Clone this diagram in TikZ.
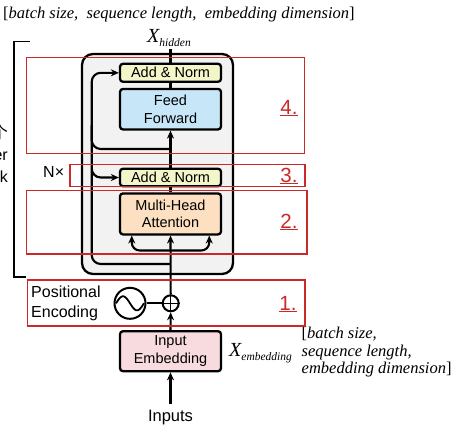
\documentclass[tikz,border=0pt]{standalone}
\usepackage{fontspec}
\setmainfont{Liberation Sans}
\newfontfamily\serifit{Liberation Serif}[Ligatures=TeX]
\newfontfamily\cjkfont{Noto Sans CJK SC}
\usetikzlibrary{arrows.meta,calc}
\definecolor{annorm}{RGB}{243,246,201}
\definecolor{ffblue}{RGB}{199,231,249}
\definecolor{mhaorange}{RGB}{252,224,193}
\definecolor{iepink}{RGB}{248,219,222}
\definecolor{blockgray}{RGB}{242,242,242}
\definecolor{annred}{RGB}{205,40,40}
\tikzset{
  blk/.style={draw=black, line width=2.3pt, rounded corners=3pt,
    minimum width=101pt, align=center, inner sep=0pt,
    font=\fontsize{14.5}{17.5}\selectfont},
  arr/.style={line width=2.1pt, -{Stealth[length=8pt,width=7pt]}},
  ln/.style={line width=2.1pt},
  redbox/.style={draw=annred, line width=1.2pt},
  redlab/.style={text=annred, font=\fontsize{20.5}{20.5}\selectfont, inner sep=0pt},
  serlab/.style={font=\serifit\itshape\fontsize{16.5}{17.5}\selectfont, inner sep=0pt}
}
\begin{document}
\begin{tikzpicture}[x=1pt,y=-1pt]
\useasboundingbox (0,0) rectangle (470,429);

% outer encoder block
\node[draw=black, fill=blockgray, line width=2.3pt, rounded corners=11pt,
  minimum width=151pt, minimum height=220pt, inner sep=0pt] (outer) at (157.5,164) {};

% blocks
\node[blk, fill=annorm, minimum height=18pt] (antop) at (170.5,72.8) {Add \& Norm};
\node[blk, fill=ffblue, minimum height=40.5pt] (ff) at (170.5,109.2) {Feed\\Forward};
\node[blk, fill=annorm, minimum height=17.5pt] (anbot) at (170.5,177.5) {Add \& Norm};
\node[blk, fill=mhaorange, minimum height=41pt] (mha) at (170.5,213.9) {Multi-Head\\Attention};
\node[blk, fill=iepink, minimum height=40pt] (ie) at (170.5,351.2) {Input\\Embedding};

% positional encoding
\node[circle, draw=black, line width=2pt, minimum size=16pt, inner sep=0pt] (plus) at (170.7,303.3) {};
\draw[line width=1.5pt] (plus.north) -- (plus.south) (plus.west) -- (plus.east);
\node[circle, draw=black, line width=2pt, minimum size=31pt, inner sep=0pt] (sine) at (130,303.3) {};
\draw[line width=1.8pt, shift={(sine.center)}] plot[domain=-14:14, samples=50, smooth] (\x, {-7*sin(180*(\x+14)/14)});
\node[anchor=west, align=left, inner sep=0pt, font=\fontsize{16}{20}\selectfont] (pe) at (31,303) {Positional\\Encoding};

% inputs
\node[inner sep=2pt, font=\fontsize{16.5}{18}\selectfont] (inp) at (170.5,418) {Inputs};

% coordinates
\coordinate (top) at (170.5,49);
\coordinate (br1) at (170.5,149);
\coordinate (br2) at (170.5,264);
\coordinate (br3) at (170.5,250.5);
\coordinate (loopx) at (91.7,120);
\coordinate (fkl) at ($(mha.south west)!0.125!(mha.south east)$);
\coordinate (fkr) at ($(mha.south west)!0.875!(mha.south east)$);

% connectors
\draw[arr] ([yshift=4pt]inp.north) -- (ie.south);
\draw[arr] (ie.north) -- (plus.south);
\draw[ln] (sine.east) -- (plus.west);
\draw[arr] (plus.north) -- (mha.south);
\draw[ln] (mha.north) -- (anbot.south);
\draw[arr] (anbot.north) -- (ff.south);
\draw[ln] (ff.north) -- (antop.south);
\draw[ln] (antop.north) -- (top);
\draw[arr, rounded corners=9pt] (br1) -| (loopx) |- (antop.west);
\draw[arr, rounded corners=9pt] (br2) -| (loopx) |- (anbot.west);
\draw[arr, rounded corners=8pt] (br3) -| (fkl);
\draw[arr, rounded corners=8pt] (br3) -| (fkr);

% labels
\node[serlab, anchor=west] (shape1) at (3,15) {{\upshape[}batch size,\ \ sequence length,\ \ embedding dimension{\upshape]}};
\node[inner sep=0pt] (xh) at (169,38) {{\serifit\itshape\fontsize{20}{20}\selectfont X}\raisebox{-4pt}{\serifit\itshape\fontsize{11.5}{11.5}\selectfont hidden}};
\node[inner sep=0pt, anchor=west] (xe) at (229,353) {{\serifit\itshape\fontsize{20}{20}\selectfont X}\raisebox{-4pt}{\serifit\itshape\fontsize{11.5}{11.5}\selectfont embedding}};
\node[serlab, anchor=north west, align=left] (shape2) at (301.5,327) {{\upshape[}batch size,\\sequence length,\\embedding dimension{\upshape]}};
\node[anchor=west, inner sep=0pt, font=\fontsize{16}{16}\selectfont] (nx) at (43,172) {N×};
\node[anchor=east, align=right, inner sep=0pt, font=\fontsize{16}{22}\selectfont] (encl) at (8,154) {{\cjkfont 一个}\\Encoder\\Block};

% left bracket
\draw[line width=1.3pt] (30,41.7) -- (14,41.7) -- (14,277) -- (26,277);

% red annotation boxes
\draw[redbox] (26.7,57.3) rectangle (304.3,153.3);
\draw[redbox] (70,164.3) rectangle (305,186.5);
\draw[redbox] (26.7,190.7) rectangle (307,254);
\draw[redbox] (27.3,280) rectangle (305,326);
\node[redlab] (l4) at (289,108) {\underline{4.}};
\node[redlab] (l3) at (289,176) {\underline{3.}};
\node[redlab] (l2) at (289,222) {\underline{2.}};
\node[redlab] (l1) at (288,304) {\underline{1.}};
\end{tikzpicture}
\end{document}
